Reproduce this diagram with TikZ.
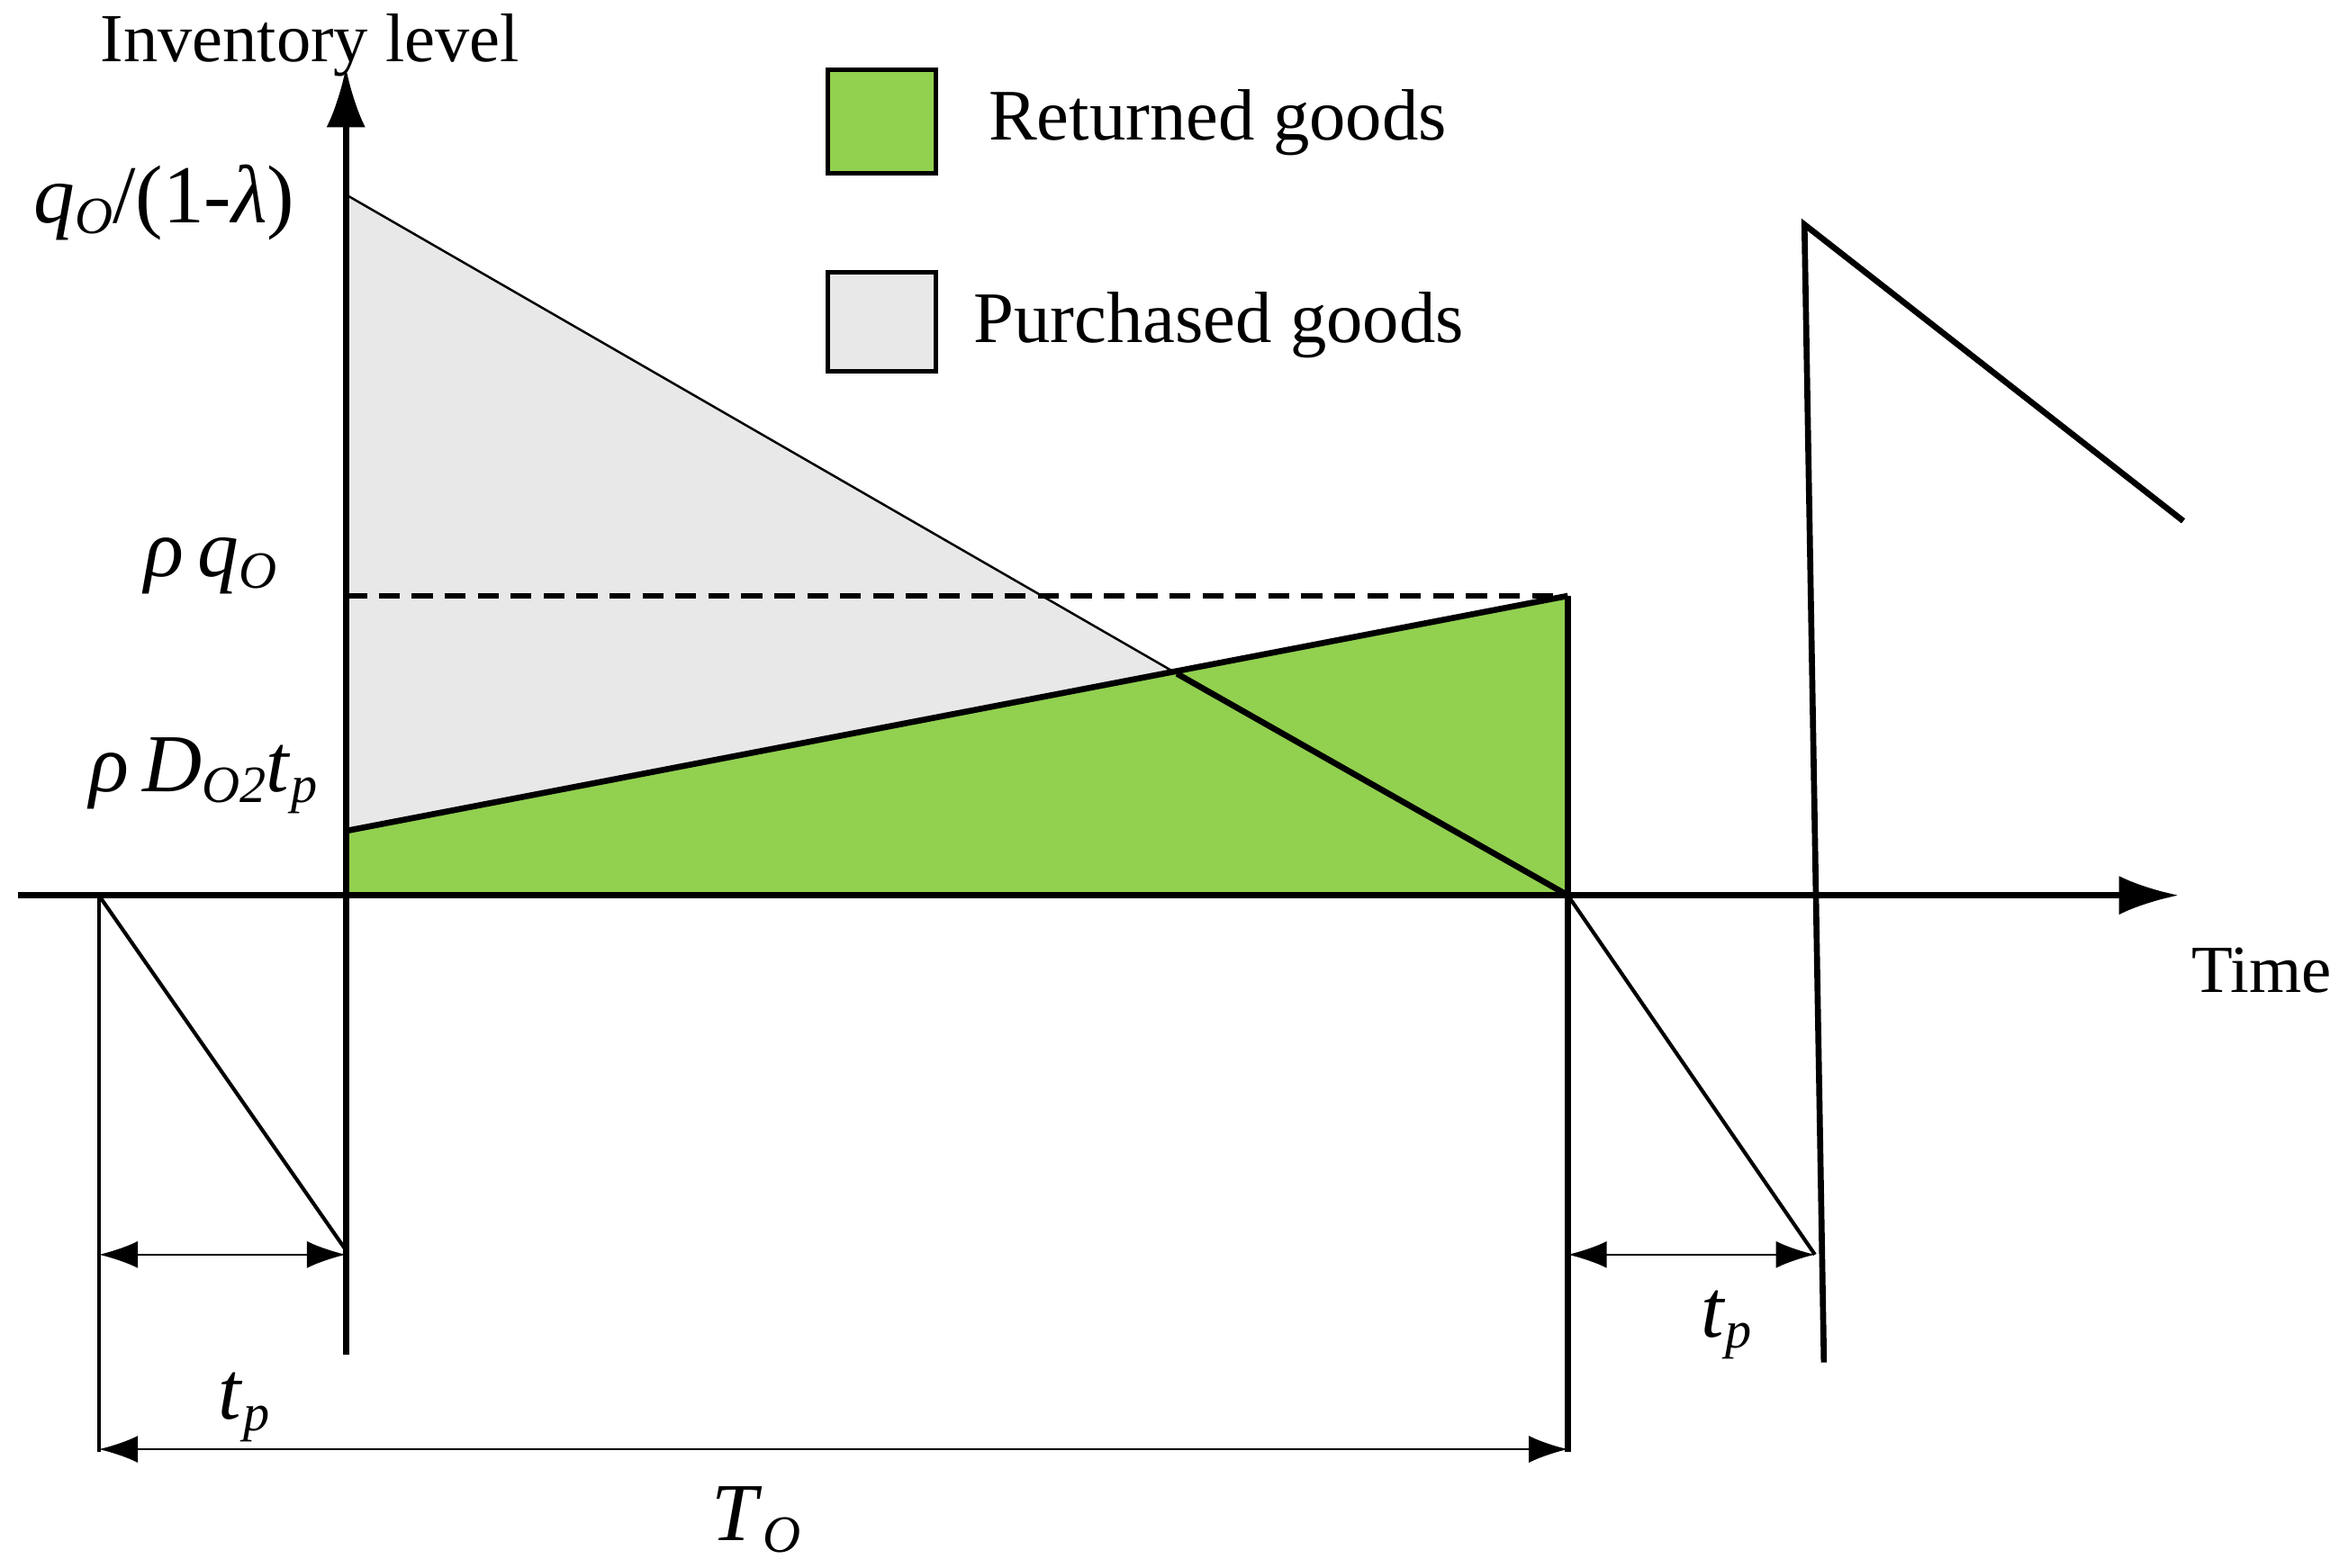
\documentclass[tikz,border=0pt]{standalone}
\usepackage{fontspec}
\setmainfont{Liberation Serif}
\usetikzlibrary{arrows.meta}
\definecolor{gr}{RGB}{146,208,80}
\definecolor{lg}{RGB}{232,232,232}
\newcommand{\iv}[1]{\textit{#1}}
\newcommand{\sbx}[1]{\raisebox{-0.3ex}{\fontsize{35}{40}\selectfont\textit{#1}}}
\tikzset{thick line/.style={line width=4pt},thin line/.style={line width=1.5pt},
dim/.style={line width=1.5pt,{Latex[length=26pt,width=18pt]}-{Latex[length=26pt,width=18pt]}},
lbl/.style={font=\fontsize{48.5}{56}\selectfont,inner sep=0pt},
mlbl/.style={font=\fontsize{55}{60}\selectfont,inner sep=0pt}}
\begin{document}
\begin{tikzpicture}[x=1pt,y=-1pt]
\useasboundingbox (0,0) rectangle (1568,1047);
\coordinate (O) at (231,598);
\coordinate (top) at (231,130);
\coordinate (gs) at (231,555);
\coordinate (ge) at (1047,398);
\coordinate (T) at (1047,598);
\coordinate (X) at (786,450);
% fills
\fill[gr] (gs) -- (ge) -- (T) -- (O) -- cycle;
\fill[lg] (top) -- (X) -- (gs) -- cycle;
% lines
\draw[thin line] (top) -- (X);
\draw[thick line] (X) -- (T);
\draw[thick line] (gs) -- (ge);
\draw[thick line,dash pattern=on 14pt off 8pt] (231,398) -- (ge);
\draw[thick line] (ge) -- (1047,970);
\draw[thick line,-{Latex[length=40pt,width=26pt]}] (12,598) -- (1455,598);
\draw[thick line,-{Latex[length=40pt,width=26pt]}] (231,905) -- (231,45);
\draw[line width=2.5pt] (66,598) -- (231,835);
\draw[line width=2.5pt] (66,598) -- (66,970);
\draw[line width=2.5pt] (T) -- (1212,838);
\draw[thick line] (1218,910) -- (1205,150) -- (1458,348);
\draw[dim] (66,838) -- (231,838);
\draw[dim] (66,968) -- (1047,968);
\draw[dim] (1047,838) -- (1212,838);
% legend
\node[draw,line width=3pt,fill=gr,minimum width=72pt,minimum height=69pt,inner sep=0pt] (lgr) at (589,81) {};
\node[draw,line width=3pt,fill=lg,minimum width=72pt,minimum height=66pt,inner sep=0pt] (lgg) at (589,215) {};
\node[lbl,anchor=west] (t1) at (660,82) {Returned goods};
\node[lbl,anchor=west] (t2) at (650,217) {Purchased goods};
% labels
\node[lbl,font=\fontsize{46}{50}\selectfont] (il) at (207,30) {Inventory level};
\node[mlbl,anchor=east] (l1) at (197,135) {\iv{q}\sbx{O}/(1-\iv{λ})};
\node[mlbl,anchor=east] (l2) at (185,378) {\iv{ρ}\,\iv{q}\sbx{O}};
\node[mlbl,anchor=east] (l3) at (212,518) {\iv{ρ}\,\iv{D}\sbx{O2}\iv{t}\sbx{p}};
\node[lbl,font=\fontsize{45}{50}\selectfont,anchor=east] (tm) at (1557,648) {Time};
\node[mlbl] (tp1) at (163,940) {\iv{t}\sbx{p}};
\node[mlbl] (to) at (505,1015) {\iv{T}\sbx{O}};
\node[mlbl] (tp2) at (1153,885) {\iv{t}\sbx{p}};
\end{tikzpicture}
\end{document}
